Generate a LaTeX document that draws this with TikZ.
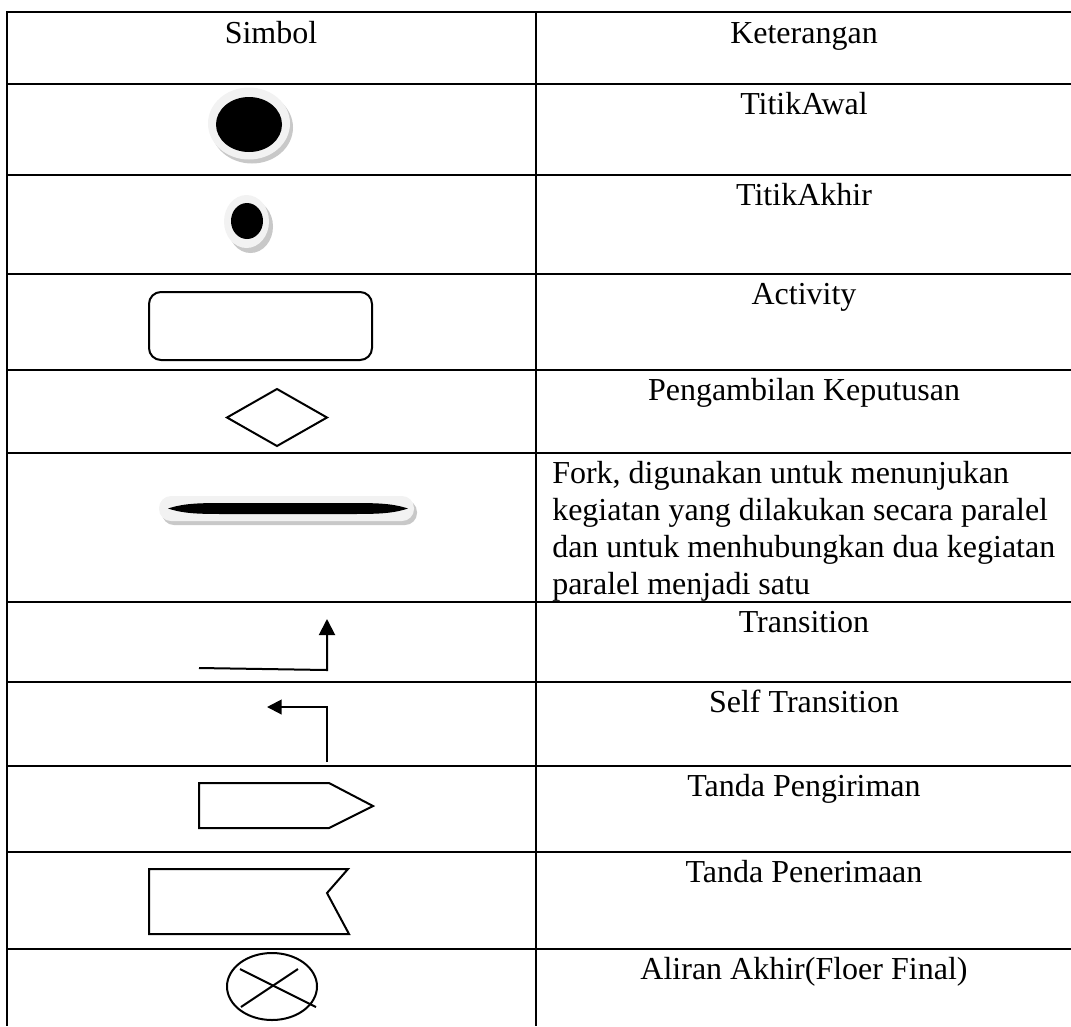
\documentclass[tikz,border=0pt]{standalone}
\usepackage{fontspec}
\setmainfont{Liberation Serif}
\usepackage{tikz}
\usepackage{xcolor}
\usetikzlibrary{arrows.meta}

\tikzset{
  rowline/.style={line width=2pt},
  symline/.style={line width=1.5pt},
  cellText/.style={anchor=base,font=\fontsize{24}{27.75}\selectfont},
  leftText/.style={anchor=base west,inner xsep=0pt,font=\fontsize{24}{27.75}\selectfont},
  ringWhite/.style={fill={rgb,255:red,242;green,242;blue,242}},
  ringShadow/.style={fill={rgb,255:red,200;green,200;blue,200}}
}

\begin{document}
\begin{tikzpicture}[x=0.75pt,y=0.75pt,yscale=-1,xscale=1]
\useasboundingbox (0,0) rectangle (1071,1026);

%Table frame
\draw [rowline] (7,12) -- (7,1026) ;
\draw [rowline] (536,12) -- (536,1026) ;
\foreach \yrow in {12,84,175,274,370,453,602,682,766,852,949}
  \draw [rowline] (6,\yrow) -- (1071,\yrow) ;

%Shape: Titik Awal
\fill [ringShadow] (252,127.5) ellipse (41 and 36) ;
\fill [ringWhite] (249,123.5) ellipse (41 and 36) ;
\fill (249,124.5) ellipse (33 and 27.5) ;

%Shape: Titik Akhir
\fill [ringShadow] (250.5,226.5) ellipse (22.5 and 26.5) ;
\fill [ringWhite] (246.5,221.5) ellipse (22.5 and 26.5) ;
\fill (247,221) ellipse (16 and 18) ;

%Shape: Activity
\draw [symline, rounded corners=9pt] (149,292) rectangle (372,360) ;

%Shape: Diamond
\draw [symline] (277,389) -- (327,417.5) -- (277,446) -- (227,417.5) -- cycle ;

%Shape: Fork
\fill [ringShadow, rounded corners=9pt] (162,500) rectangle (417,525) ;
\fill [ringWhite, rounded corners=9pt] (159,496) rectangle (414,521) ;
\fill (168,508.5) .. controls (185,503) and (200,503) .. (230,503) -- (346,503) .. controls (376,503) and (391,503) .. (408,508.5) .. controls (391,514) and (376,514) .. (346,514) -- (230,514) .. controls (200,514) and (185,514) .. (168,508.5) -- cycle ;

%Straight Lines: Transition
\coordinate (trStart) at (199,668) ;
\coordinate (trCorner) at (327,670) ;
\coordinate (trEnd) at (327,619) ;
\draw [symline, -{Triangle[length=12pt,width=12pt]}] (trStart) -- (trCorner) -- (trEnd) ;

%Straight Lines: Self Transition
\coordinate (stStart) at (327,762) ;
\coordinate (stCorner) at (327,707) ;
\coordinate (stEnd) at (267,707) ;
\draw [symline, -{Triangle[length=11pt,width=11pt]}] (stStart) -- (stCorner) -- (stEnd) ;

%Shape: Tanda Pengiriman
\draw [symline] (199,783) -- (329,783) -- (373,806) -- (329,828) -- (199,828) -- cycle ;

%Shape: Tanda Penerimaan
\draw [symline] (149,869) -- (348,869) -- (327,893) -- (349,934) -- (149,934) -- cycle ;

%Shape: Aliran Akhir
\draw [symline] (272,986.5) ellipse (45 and 33.5) ;
\draw [symline] (240,969) -- (316,1007) ;
\draw [symline] (298,969) -- (241,1007) ;

% Text Node
\node (hdSimbol) [cellText] at (271,43) {Simbol};
% Text Node
\node (hdKet) [cellText] at (804,43) {Keterangan};
% Text Node
\node (txAwal) [cellText] at (804,114) {TitikAwal};
% Text Node
\node (txAkhir) [cellText] at (804,205) {TitikAkhir};
% Text Node
\node (txActivity) [cellText] at (804,304) {Activity};
% Text Node
\node (txDecision) [cellText] at (804,400) {Pengambilan Keputusan};
% Text Node
\node (txForkA) [leftText] at (552,483) {Fork, digunakan untuk menunjukan};
\node (txForkB) [leftText] at (552,520.5) {kegiatan yang dilakukan secara paralel};
\node (txForkC) [leftText] at (552,557.5) {dan untuk menhubungkan dua kegiatan};
\node (txForkD) [leftText] at (552,594) {paralel menjadi satu};
% Text Node
\node (txTrans) [cellText] at (804,632) {Transition};
% Text Node
\node (txSelf) [cellText] at (804,712) {Self Transition};
% Text Node
\node (txSend) [cellText] at (804,796) {Tanda Pengiriman};
% Text Node
\node (txRecv) [cellText] at (804,882) {Tanda Penerimaan};
% Text Node
\node (txFlow) [cellText] at (804,979) {Aliran Akhir(Floer Final)};
\end{tikzpicture}
\end{document}
